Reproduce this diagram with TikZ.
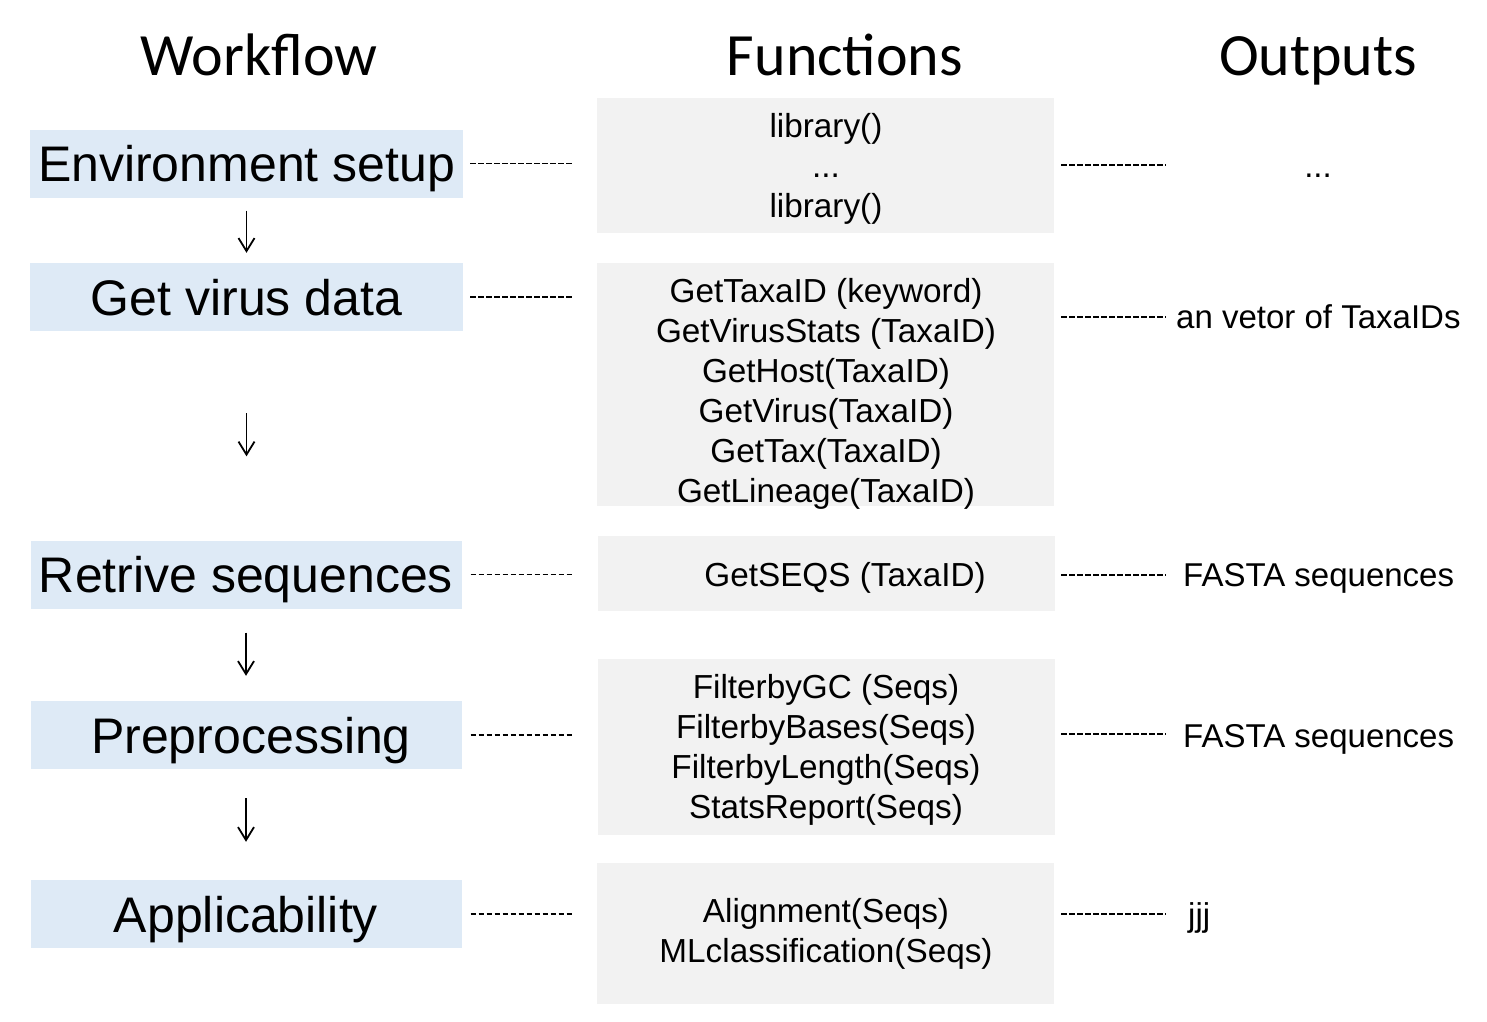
\documentclass[tikz,border=0pt]{standalone}
\usepackage{fontspec}
\setmainfont{Liberation Sans}
\newfontfamily\titlefont{Carlito}
\usetikzlibrary{arrows.meta}
\definecolor{wfblue}{HTML}{DEEAF6}
\definecolor{fngray}{HTML}{F2F2F2}
\begin{document}
\begin{tikzpicture}[x=1pt,y=-1pt,
  title/.style={font=\titlefont\fontsize{60}{64}\selectfont, anchor=base, inner sep=0},
  wfbox/.style={fill=wfblue, minimum width=433pt, minimum height=68pt, inner sep=0,
    font=\fontsize{50}{55}\selectfont, text height=36pt, text depth=0pt},
  fnbox/.style={fill=fngray, inner sep=0, minimum width=457pt},
  fntext/.style={font=\fontsize{33.3}{40}\selectfont, align=center, inner sep=0},
  outtext/.style={font=\fontsize{33}{40}\selectfont, anchor=base west, inner sep=0},
  dashline/.style={line width=1.7pt, dash pattern=on 5.5pt off 2.5pt},
  flow/.style={line width=1.8pt, -{Straight Barb[length=13pt,width=16pt,line width=1.8pt]}}]
\useasboundingbox (0,0) rectangle (1487,1021);

% titles
\node[title] (tw) at (259,75) {Workflow};
\node[title] (tf) at (845,75) {Functions};
\node[title] (to) at (1318,75) {Outputs};

% workflow boxes
\node[wfbox] (env) at (246.5,163.5) {Environment setup};
\node[wfbox] (gv)  at (246.5,297)   {Get virus data};
\node[wfbox, minimum width=431pt] (rs) at (246,574.5) {Retrive sequences};
\node[wfbox, minimum width=431pt, text width=431pt, align=center] (pp) at (246,735) {\hspace*{10pt}Preprocessing};
\node[wfbox, minimum width=431pt] (ap) at (246,914)   {Applicability};

% function boxes
\node[fnbox, minimum height=135pt] (f1) at (825.5,165.5) {};
\node[fnbox, minimum height=243pt] (f2) at (825.5,384.5) {};
\node[fnbox, minimum height=75pt]  (f3) at (826.5,573.5) {};
\node[fnbox, minimum height=176pt] (f4) at (826.5,747)   {};
\node[fnbox, minimum height=141pt] (f5) at (825.5,933.5) {};

% function texts
\node[fntext] (t1) at (826,169) {library()\\...\\library()};
\node[fntext] (t2) at (826,394) {GetTaxaID (keyword)\\GetVirusStats (TaxaID)\\GetHost(TaxaID)\\GetVirus(TaxaID)\\GetTax(TaxaID)\\GetLineage(TaxaID)};
\node[fntext] (t3) at (845,578) {GetSEQS (TaxaID)};
\node[fntext] (t4) at (826,750) {FilterbyGC (Seqs)\\FilterbyBases(Seqs)\\FilterbyLength(Seqs)\\StatsReport(Seqs)};
\node[fntext] (t5) at (826,934) {Alignment(Seqs)\\MLclassification(Seqs)};

% outputs
\node[outtext, anchor=base] (o1) at (1318,177) {...};
\node[outtext] (o2) at (1176,328) {an vetor of TaxaIDs};
\node[outtext] (o3) at (1183,586) {FASTA sequences};
\node[outtext] (o4) at (1183,747) {FASTA sequences};
\node[outtext] (o5) at (1188,926) {jjj};

% right dashed ends
\coordinate (c1) at (1166,165);
\coordinate (c2) at (1166,317);
\coordinate (c3) at (1166,575);
\coordinate (c4) at (1166,734);
\coordinate (c5) at (1166,914);

% left dashed connectors
\draw[dashline] ([xshift=7pt]env.east) -- ([xshift=-24pt]env.east -| f1.west);
\draw[dashline] ([xshift=7pt]gv.east)  -- ([xshift=-24pt]gv.east -| f2.west);
\draw[dashline] ([xshift=9pt]rs.east)  -- ([xshift=-25pt]rs.east -| f3.west);
\draw[dashline] ([xshift=9pt]pp.east)  -- ([xshift=-25pt]pp.east -| f4.west);
\draw[dashline] ([xshift=9pt]ap.east)  -- ([xshift=-24pt]ap.east -| f5.west);

% right dashed connectors
\draw[dashline] ([xshift=7pt]f1.east |- c1) -- (c1);
\draw[dashline] ([xshift=7pt]f2.east |- c2) -- (c2);
\draw[dashline] ([xshift=6pt]f3.east |- c3) -- (c3);
\draw[dashline] ([xshift=6pt]f4.east |- c4) -- (c4);
\draw[dashline] ([xshift=7pt]f5.east |- c5) -- (c5);

% flow arrows
\draw[flow, shorten <=13pt, shorten >=10pt] (env.south) -- (gv.north);
\draw[flow, shorten <=82pt, shorten >=84pt] (gv.south) -- (gv.south |- rs.north);
\draw[flow, shorten <=24pt, shorten >=25pt] (rs.south) -- (pp.north);
\draw[flow, shorten <=29pt, shorten >=38pt] (pp.south) -- (ap.north);
\end{tikzpicture}
\end{document}
